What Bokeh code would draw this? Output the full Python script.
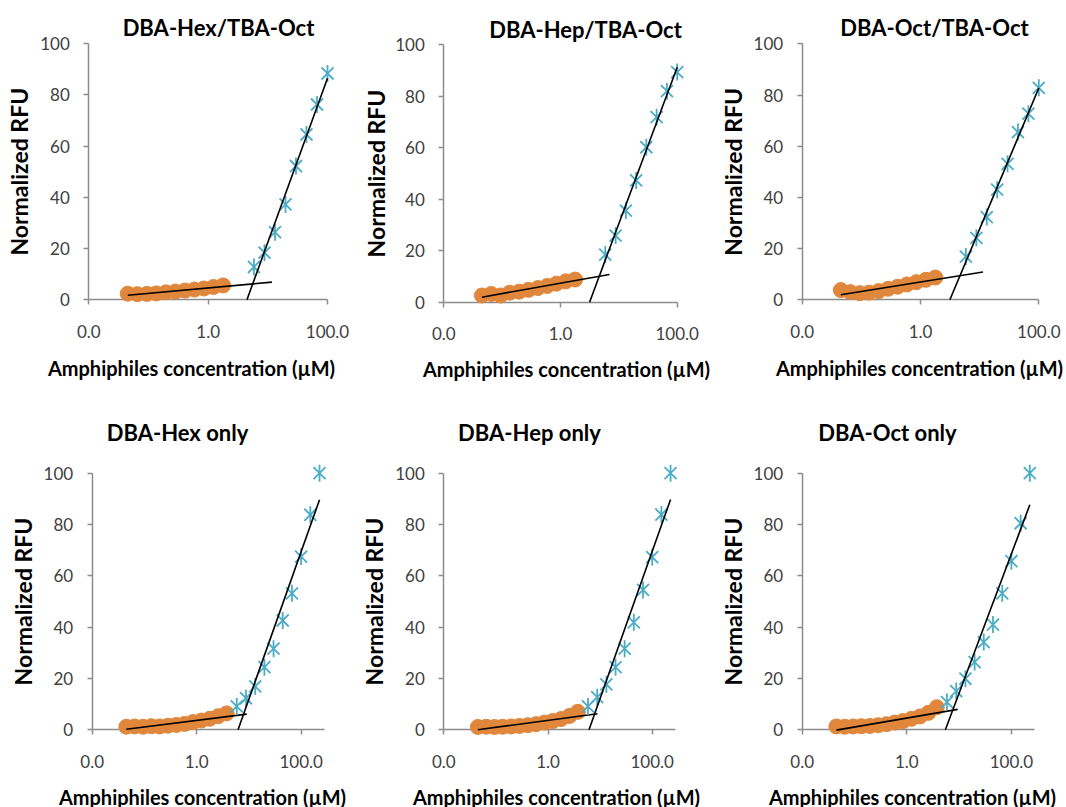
import numpy as np
from bokeh.plotting import figure
from bokeh.models import FixedTicker, PrintfTickFormatter, Label, Range1d
from bokeh.layouts import column, row
from bokeh.embed import file_html
from bokeh.resources import INLINE

# ---------------- data ----------------
titles = ["DBA-Hex/TBA-Oct", "DBA-Hep/TBA-Oct", "DBA-Oct/TBA-Oct",
          "DBA-Hex only", "DBA-Hep only", "DBA-Oct only"]
x_label = "Amphiphiles concentration (\u00b5M)"
y_label = "Normalized RFU"
x_tick_values = [0.01, 1, 100]
y_tick_values = [0, 20, 40, 60, 80, 100]

conc_low_top = [0.045, 0.065, 0.094, 0.135, 0.196, 0.283, 0.41, 0.59, 0.85, 1.23, 1.78]
conc_low_bottom = [0.045, 0.065, 0.094, 0.135, 0.196, 0.283, 0.41, 0.59, 0.85, 1.23, 1.78, 2.58, 3.74]
conc_high_top = [5.85, 8.8, 13.2, 19.8, 29.6, 44.4, 66.7, 100]
conc_high_bottom = [5.85, 8.8, 13.2, 19.8, 29.6, 44.4, 66.7, 100, 150, 225]

rfu_low_hex_tba = [2.4, 2.2, 2.3, 2.5, 2.9, 3.2, 3.6, 4.0, 4.4, 5.0, 5.6]
rfu_low_hep_tba = [2.6, 3.2, 2.6, 3.7, 4.1, 4.8, 5.5, 6.3, 7.2, 8.1, 8.8]
rfu_low_oct_tba = [3.8, 3.0, 2.6, 2.8, 3.4, 4.3, 5.1, 6.0, 6.9, 7.8, 8.7]
rfu_low_hex = [1.2, 1.3, 1.2, 1.4, 1.3, 1.6, 1.9, 2.3, 3.0, 3.6, 4.3, 5.3, 6.4]
rfu_low_hep = [1.1, 1.2, 1.1, 1.2, 1.3, 1.5, 1.8, 2.2, 2.8, 3.4, 4.2, 5.4, 7.0]
rfu_low_oct = [1.3, 1.2, 1.3, 1.4, 1.5, 1.8, 2.2, 2.8, 3.4, 4.3, 5.2, 6.6, 8.8]

rfu_high_hex_tba = [12.8, 18.4, 26.4, 37.2, 52.2, 64.5, 76.2, 88.3]
rfu_high_hep_tba = [18.5, 25.9, 35.6, 47.3, 60.2, 71.9, 82.0, 89.4]
rfu_high_oct_tba = [16.9, 24.2, 32.3, 43.0, 53.1, 65.5, 72.7, 82.8]
rfu_high_hex = [9.1, 12.3, 16.9, 24.4, 31.6, 42.6, 53.2, 67.5, 83.8, 100]
rfu_high_hep = [9.1, 12.7, 17.7, 24.4, 31.6, 41.9, 54.5, 67.3, 83.9, 100]
rfu_high_oct = [10.8, 15.1, 19.9, 26.4, 34.2, 41.0, 53.2, 65.7, 80.5, 100]

# extents of the logarithmic trendlines (forecast range, in uM)
low_fit_end = [11.7, 6.9, 11.4, 9.1, 8.9, 9.4]
high_fit_start = [1.0, 2.86, 1.0, 1.0, 1.0, 1.0]

low_sets = [(conc_low_top, rfu_low_hex_tba), (conc_low_top, rfu_low_hep_tba), (conc_low_top, rfu_low_oct_tba),
            (conc_low_bottom, rfu_low_hex), (conc_low_bottom, rfu_low_hep), (conc_low_bottom, rfu_low_oct)]
high_sets = [(conc_high_top, rfu_high_hex_tba), (conc_high_top, rfu_high_hep_tba), (conc_high_top, rfu_high_oct_tba),
             (conc_high_bottom, rfu_high_hex), (conc_high_bottom, rfu_high_hep), (conc_high_bottom, rfu_high_oct)]

# ---------------- layout / style ----------------
FONT = "Lato"
ORANGE = "#E0873C"
TEAL = "#4BACC6"
AXIS = "#8C8C8C"
TICKTXT = "#404040"

# panel size, plot-area edges (panel px), x axis end, title / x-label centres, y-label x
panels = [
    dict(w=355, h=390, L=88.3, R=327.0, T=43.0, B=299.3, xend=100, tc=(218, 27), xc=(191, 367), yl=18),
    dict(w=355, h=390, L=88.3, R=321.7, T=44.3, B=301.7, xend=100, tc=(230, 29), xc=(211, 368), yl=20),
    dict(w=356, h=390, L=91.7, R=328.3, T=43.3, B=299.3, xend=100, tc=(224, 27), xc=(209, 367), yl=22),
    dict(w=355, h=417, L=91.7, R=324.0, T=82.7, B=339.3, xend=280, tc=(177, 42), xc=(202, 406), yl=22),
    dict(w=355, h=417, L=88.3, R=320.0, T=82.7, B=339.3, xend=280, tc=(174, 42), xc=(201, 406), yl=18),
    dict(w=356, h=417, L=91.7, R=324.3, T=82.7, B=339.3, xend=280, tc=(177, 42), xc=(202, 406), yl=22),
]


def make_panel(i):
    c = panels[i]
    w, h = c["w"], c["h"]
    lx0, lx1 = np.log10(x_tick_values[0]), np.log10(c["xend"])
    ppd = (c["R"] - c["L"]) / (lx1 - lx0)
    xs = 10 ** (lx0 - c["L"] / ppd)
    xe = 10 ** (lx1 + (w - c["R"]) / ppd)
    ppu = (c["B"] - c["T"]) / (y_tick_values[-1] - y_tick_values[0])
    ys = y_tick_values[0] - (h - c["B"]) / ppu
    ye = y_tick_values[-1] + c["T"] / ppu

    p = figure(width=w, height=h, x_axis_type="log",
               x_range=Range1d(xs, xe), y_range=Range1d(ys, ye),
               output_backend="svg", toolbar_location=None,
               min_border=0, min_border_left=0, min_border_right=0,
               min_border_top=0, min_border_bottom=0)
    p.outline_line_color = None
    p.grid.visible = False
    p.background_fill_color = "white"
    p.border_fill_color = "white"

    for ax in (p.xaxis[0], p.yaxis[0]):
        ax.axis_line_color = AXIS
        ax.axis_line_width = 1.5
        ax.major_tick_line_color = AXIS
        ax.major_tick_line_width = 1.5
        ax.major_tick_out = 5
        ax.major_tick_in = 0
        ax.minor_tick_line_color = None
        ax.major_label_text_font = FONT
        ax.major_label_text_font_size = "17px"
        ax.major_label_text_color = TICKTXT
        ax.level = "underlay"
    p.xaxis.fixed_location = y_tick_values[0]
    p.xaxis.bounds = (x_tick_values[0], c["xend"])
    p.yaxis.fixed_location = x_tick_values[0]
    p.yaxis.bounds = (y_tick_values[0], y_tick_values[-1])
    p.xaxis.ticker = FixedTicker(ticks=x_tick_values, minor_ticks=[])
    p.xaxis.formatter = PrintfTickFormatter(format="%.1f")
    p.xaxis.major_label_standoff = 20
    p.yaxis.ticker = FixedTicker(ticks=y_tick_values, minor_ticks=[])
    p.yaxis.major_label_standoff = 14

    lx, ly = low_sets[i]
    hx, hy = high_sets[i]

    # logarithmic trendlines (least squares in log10 x)
    a1, b1 = np.polyfit(np.log10(lx), ly, 1)
    a2, b2 = np.polyfit(np.log10(hx), hy, 1)
    x_zero = 10 ** (-b2 / a2)
    lfx = np.array([lx[0], low_fit_end[i]])
    hfx = np.array([max(high_fit_start[i], x_zero), hx[-1]])

    p.scatter(lx, ly, size=15, marker="circle", fill_color=ORANGE, line_color=ORANGE)
    p.line(lfx, a1 * np.log10(lfx) + b1, line_color="black", line_width=1.6)

    p.scatter(hx, hy, size=17, marker="x", line_color=TEAL, line_width=1.8)
    p.scatter(hx, hy, size=17, marker="dash", angle=np.pi / 2, line_color=TEAL, line_width=1.8)
    p.line(hfx, a2 * np.log10(hfx) + b2, line_color="black", line_width=1.6)

    tx, ty = c["tc"]
    p.add_layout(Label(x=tx, y=h - ty, x_units="screen", y_units="screen",
                       text=titles[i], text_align="center", text_baseline="middle",
                       text_font=FONT, text_font_style="bold", text_font_size="22px",
                       text_color="black"))
    xx, xy = c["xc"]
    p.add_layout(Label(x=xx, y=h - xy, x_units="screen", y_units="screen",
                       text=x_label, text_align="center", text_baseline="middle",
                       text_font=FONT, text_font_style="bold", text_font_size="20px",
                       text_color="black"))
    p.add_layout(Label(x=c["yl"], y=h - (c["T"] + c["B"]) / 2, x_units="screen", y_units="screen",
                       text=y_label, text_align="center", text_baseline="middle", angle=np.pi / 2,
                       text_font=FONT, text_font_style="bold", text_font_size="23px",
                       text_color="black"))
    return p


figs = [make_panel(i) for i in range(6)]
layout = column(row(figs[0], figs[1], figs[2]), row(figs[3], figs[4], figs[5]))

open("out.html", "w").write(file_html(layout, INLINE))
